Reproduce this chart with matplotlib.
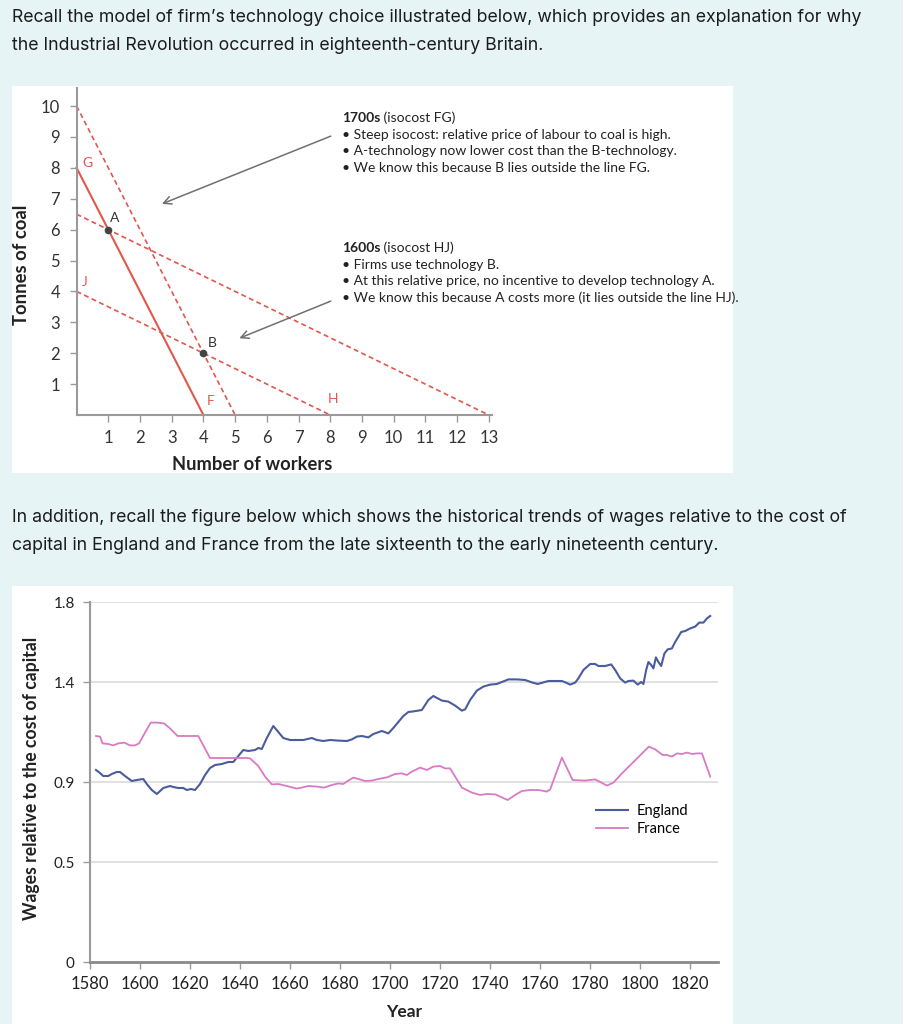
import matplotlib
matplotlib.use("Agg")
import matplotlib.pyplot as plt
from matplotlib.patches import Rectangle

W, H = 914, 1024
bg = "#e6f4f5"
red = "#e0584d"
eng_col = "#4a5c9c"
fra_col = "#d97ac4"
chart_font = "Lato"
page_font = "Inter"

# --- isocost diagram data ---
line_FG = ([0, 4], [8, 0])          # solid isocost through A
line_dash_steep = ([0, 5], [10, 0])
line_dash_A = ([0, 13], [6.5, 0])
line_HJ = ([0, 8], [4, 0])
point_A = (1, 6)
point_B = (4, 2)
y_ticks_top = list(range(1, 11))
x_ticks_top = list(range(1, 14))

# --- wages relative to cost of capital ---
eng_years = [1582.4, 1583.5, 1585.3, 1587.3, 1588.7, 1590.7, 1592, 1594, 1596.7, 1598.7,
             1601.3, 1602.7, 1604.7, 1606.7, 1607.6, 1609.3, 1612, 1613.3, 1615.3, 1617.3,
             1618.7, 1620.4, 1622, 1624, 1626, 1628, 1630, 1632.7, 1635.3, 1637.3,
             1639.3, 1641.3, 1643.3, 1646, 1647.3, 1648.7, 1650.7, 1653.3, 1655.3, 1657.3,
             1660, 1662.7, 1665.3, 1668.7, 1670.7, 1673.3, 1676, 1679.3, 1682.7, 1684.7,
             1686.7, 1688.7, 1691.3, 1693.3, 1696.7, 1699.3, 1701.3, 1703.3, 1705.3, 1707.3,
             1709.3, 1712.7, 1715.3, 1717.3, 1720.7, 1723.3, 1726, 1728.7, 1730, 1732,
             1734.7, 1737.3, 1740, 1742.7, 1744.7, 1747.3, 1750.7, 1754, 1756.7, 1759,
             1761.3, 1763.3, 1766, 1768.7, 1770.3, 1772, 1774, 1775.3, 1777.3, 1780,
             1782, 1783.3, 1786, 1788.4, 1790, 1792, 1794, 1795.3, 1797.3, 1799,
             1800.4, 1801.3, 1802.4, 1803.3, 1804.4, 1805.3, 1806.3, 1807.3, 1808.4, 1809.7,
             1811, 1812.7, 1814, 1816.4, 1818, 1820, 1822, 1823.6, 1825.3, 1826.7, 1828]
eng_vals = [0.96, 0.95, 0.93, 0.93, 0.94, 0.95, 0.95, 0.93, 0.905, 0.91,
            0.915, 0.89, 0.86, 0.84, 0.85, 0.87, 0.88, 0.875, 0.87, 0.87,
            0.86, 0.865, 0.86, 0.89, 0.935, 0.97, 0.985, 0.99, 1.0, 1.0,
            1.03, 1.06, 1.055, 1.06, 1.07, 1.065, 1.12, 1.18, 1.15, 1.12,
            1.11, 1.11, 1.11, 1.12, 1.11, 1.105, 1.11, 1.107, 1.105, 1.113,
            1.127, 1.13, 1.123, 1.14, 1.155, 1.143, 1.17, 1.2, 1.23, 1.25,
            1.253, 1.26, 1.31, 1.33, 1.307, 1.302, 1.282, 1.257, 1.263, 1.31,
            1.357, 1.377, 1.387, 1.39, 1.40, 1.413, 1.413, 1.41, 1.398, 1.39,
            1.398, 1.405, 1.405, 1.405, 1.397, 1.387, 1.397, 1.418, 1.46, 1.49,
            1.49, 1.48, 1.48, 1.488, 1.46, 1.418, 1.397, 1.405, 1.407, 1.387,
            1.40, 1.39, 1.46, 1.50, 1.485, 1.468, 1.523, 1.50, 1.48, 1.543,
            1.563, 1.568, 1.60, 1.65, 1.655, 1.668, 1.677, 1.697, 1.697, 1.718, 1.73]

fra_years = [1582.4, 1584, 1585, 1587.3, 1589.3, 1591.3, 1593.7, 1596, 1598, 1599.6,
             1602, 1604.3, 1606.7, 1609.6, 1612, 1615, 1623.3, 1628, 1642.7, 1644,
             1647.3, 1650, 1652.7, 1655.3, 1658.7, 1662.7, 1664.7, 1667.3, 1670.7, 1673.6,
             1676.7, 1679.3, 1681.3, 1683.3, 1685.3, 1687.3, 1690, 1692.7, 1695.3, 1698.7,
             1702, 1704.7, 1706.7, 1708.7, 1712, 1714.7, 1717.3, 1720, 1722, 1724,
             1726, 1728.7, 1732.7, 1736, 1738.7, 1742, 1744.7, 1747, 1750, 1752.7,
             1756, 1759.3, 1762.7, 1764, 1768.7, 1773, 1778, 1782, 1784, 1786.7,
             1789.3, 1792.7, 1803.5, 1806, 1809, 1810.7, 1812.7, 1814.7, 1816.7, 1818.7,
             1820.7, 1822.7, 1824.7, 1828]
fra_vals = [1.13, 1.127, 1.093, 1.09, 1.083, 1.093, 1.097, 1.083, 1.083, 1.093,
            1.147, 1.197, 1.197, 1.193, 1.168, 1.13, 1.13, 1.02, 1.02, 1.018,
            0.98, 0.927, 0.888, 0.89, 0.88, 0.867, 0.872, 0.88, 0.877, 0.872,
            0.885, 0.893, 0.89, 0.907, 0.922, 0.915, 0.905, 0.907, 0.915, 0.923,
            0.94, 0.943, 0.935, 0.952, 0.972, 0.96, 0.977, 0.98, 0.968, 0.968,
            0.927, 0.872, 0.847, 0.835, 0.84, 0.838, 0.823, 0.81, 0.835, 0.855,
            0.86, 0.86, 0.852, 0.863, 1.022, 0.91, 0.907, 0.913, 0.90, 0.882,
            0.897, 0.943, 1.077, 1.063, 1.035, 1.035, 1.027, 1.043, 1.04, 1.047,
            1.04, 1.043, 1.043, 0.927]
y_ticks_bottom = [0, 0.5, 0.9, 1.4, 1.8]
x_ticks_bottom = list(range(1580, 1821, 20))


def fig_rect(x0, y0, x1, y1):
    # pixel box (top-left origin) -> figure fraction rect
    return [x0 / W, 1 - y1 / H, (x1 - x0) / W, (y1 - y0) / H]


fig = plt.figure(figsize=(W / 100, H / 100), dpi=100, facecolor=bg)

# white panels behind the charts
for (x0, y0, x1, y1) in [(12, 86, 733, 473), (12, 586, 733, 1024), (903, 0, 914, 1024)]:
    r = fig_rect(x0, y0, x1, y1)
    fig.patches.append(Rectangle((r[0], r[1]), r[2], r[3], transform=fig.transFigure,
                                 facecolor="white", edgecolor="none", zorder=-10))

txt_col = "#1c1c1c"
page_size = 12.75
fig.text(12 / W, 1 - 17 / H, "Recall the model of firm\u2019s technology choice illustrated below, which provides an explanation for why",
         fontsize=page_size, family=page_font, color=txt_col, va="center")
fig.text(12 / W, 1 - 45 / H, "the Industrial Revolution occurred in eighteenth-century Britain.",
         fontsize=page_size, family=page_font, color=txt_col, va="center")
fig.text(12 / W, 1 - 518 / H, "In addition, recall the figure below which shows the historical trends of wages relative to the cost of",
         fontsize=page_size, family=page_font, color=txt_col, va="center")
fig.text(12 / W, 1 - 545 / H, "capital in England and France from the late sixteenth to the early nineteenth century.",
         fontsize=page_size, family=page_font, color=txt_col, va="center")

# ---------------- top chart: isocost lines ----------------
ax = fig.add_axes(fig_rect(76.6, 87.5, 491.9, 415))
ax.set_facecolor("none")
ax.set_xlim(0, 13.1)
ax.set_ylim(0, 10.6)
for s in ["top", "right"]:
    ax.spines[s].set_visible(False)
for s in ["left", "bottom"]:
    ax.spines[s].set_color("#9a9a9a")
    ax.spines[s].set_linewidth(1.5)
ax.set_xticks(x_ticks_top)
ax.set_yticks(y_ticks_top)
ax.tick_params(colors="#9a9a9a", labelcolor="#333333", length=5, width=1, labelsize=12)
ax.tick_params(axis="y", pad=7)
ax.tick_params(axis="x", pad=6)
for lab in ax.get_xticklabels() + ax.get_yticklabels():
    lab.set_family(chart_font)

dash = (0, (3, 2))
ax.plot(*line_FG, color=red, lw=1.5, clip_on=False)
ax.plot(*line_dash_steep, color=red, lw=1.2, ls=dash, clip_on=False)
ax.plot(*line_dash_A, color=red, lw=1.2, ls=dash, clip_on=False)
ax.plot(*line_HJ, color=red, lw=1.2, ls=dash, clip_on=False)
ax.plot(*point_A, "o", color="#444444", ms=4.5, zorder=5)
ax.plot(*point_B, "o", color="#444444", ms=4.5, zorder=5)

for lab, (x, y), c in [("G", (0.34, 8.15), red), ("J", (0.27, 4.31), red),
                       ("F", (4.24, 0.45), red), ("H", (8.08, 0.52), red),
                       ("A", (1.19, 6.39), "#333333"), ("B", (4.27, 2.34), "#333333")]:
    ax.text(x, y, lab, color=c, fontsize=10, family=chart_font, ha="center", va="center")

arrow = dict(arrowstyle="->", color="#707070", lw=1.1, mutation_scale=14)
ax.annotate("", xy=(2.61, 6.8), xytext=(8.1, 9.06), arrowprops=arrow)
ax.annotate("", xy=(5.05, 2.45), xytext=(8.1, 3.72), arrowprops=arrow)

step = 16.7 / 30.9
x_note = 8.36
note_col = "#222222"


def note_block(y0, head, sub, bullets):
    t = ax.text(x_note, y0, head, fontsize=10, family=chart_font, weight="bold",
                color=note_col, va="baseline")
    ax.annotate(" " + sub, xy=(1, 0), xycoords=t, va="bottom", ha="left",
                fontsize=10, family=chart_font, color=note_col)
    for i, b in enumerate(bullets):
        ax.text(x_note, y0 - step * (i + 1), b, fontsize=10, family=chart_font,
                color=note_col, va="baseline")


note_block(9.48, "1700s", "(isocost FG)",
           ["\u2022 Steep isocost: relative price of labour to coal is high.",
            "\u2022 A-technology now lower cost than the B-technology.",
            "\u2022 We know this because B lies outside the line FG."])
note_block(5.28, "1600s", "(isocost HJ)",
           ["\u2022 Firms use technology B.",
            "\u2022 At this relative price, no incentive to develop technology A.",
            "\u2022 We know this because A costs more (it lies outside the line HJ)."])

fig.text(22 / W, 1 - 265 / H, "Tonnes of coal", rotation=90, fontsize=13.3, weight="bold",
         family=chart_font, color="#222222", ha="center", va="center")
fig.text(252 / W, 1 - 465 / H, "Number of workers", fontsize=13.2, weight="bold",
         family=chart_font, color="#222222", ha="center", va="center")

# ---------------- bottom chart: wages / cost of capital ----------------
ax2 = fig.add_axes(fig_rect(90, 602, 717.7, 962))
ax2.set_facecolor("none")
ax2.set_xlim(1580, 1831)
ax2.set_ylim(0, 1.8)
for s in ["top", "right"]:
    ax2.spines[s].set_visible(False)
ax2.spines["left"].set_color("#9a9a9a")
ax2.spines["left"].set_linewidth(1.5)
ax2.spines["bottom"].set_color("#8a8a8a")
ax2.spines["bottom"].set_linewidth(2)
ax2.set_yticks(y_ticks_bottom)
ax2.set_yticklabels(["0", "0.5", "0.9", "1.4", "1.8"])
ax2.set_xticks(x_ticks_bottom)
ax2.tick_params(colors="#9a9a9a", labelcolor="#222222", length=5, width=1, labelsize=12)
ax2.tick_params(axis="y", pad=6)
ax2.tick_params(axis="x", pad=5)
for lab in ax2.get_xticklabels():
    lab.set_family(chart_font)
for lab in ax2.get_yticklabels():
    lab.set_family(chart_font)
    lab.set_fontsize(11)
for g in y_ticks_bottom[1:]:
    ax2.axhline(g, color="#dcdcdc", lw=1.2, zorder=0)

ax2.plot(eng_years, eng_vals, color=eng_col, lw=1.5, label="England")
ax2.plot(fra_years, fra_vals, color=fra_col, lw=1.3, label="France")
leg = ax2.legend(loc="center left", bbox_to_anchor=(0.785, 0.395), frameon=False,
                 handlelength=2.2, handletextpad=0.6, labelspacing=0.25,
                 prop={"family": chart_font, "size": 10.5})

fig.text(32 / W, 1 - 778 / H, "Wages relative to the cost of capital", rotation=90, fontsize=12.7,
         weight="bold", family=chart_font, color="#222222", ha="center", va="center")
fig.text(404 / W, 1 - 1012 / H, "Year", fontsize=12.5, weight="bold",
         family=chart_font, color="#222222", ha="center", va="center")

fig.savefig("out.png", dpi=100, facecolor=bg)
